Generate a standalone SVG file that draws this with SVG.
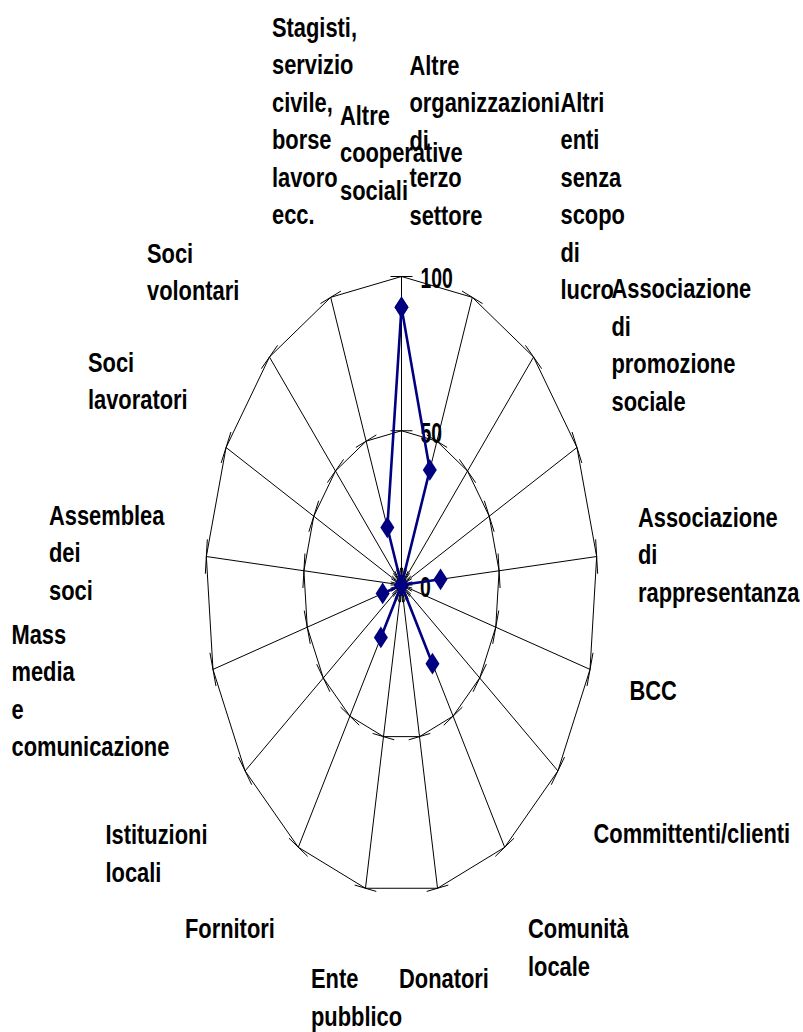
<svg xmlns="http://www.w3.org/2000/svg" width="803" height="1032" viewBox="0 0 803 1032">
<style>
.grid{fill:none;stroke:#000;stroke-width:1}
.series{fill:none;stroke:#000080;stroke-width:2.6;stroke-linejoin:round;marker-start:url(#dia);marker-mid:url(#dia);marker-end:url(#dia)}
.lbl{font-family:"Liberation Sans",Arial,sans-serif;font-weight:bold;font-size:27px;fill:#000}
.num{font-family:"Liberation Sans",Arial,sans-serif;font-weight:bold;font-size:30px;fill:#000}
</style>
<defs>
<marker id="dia" markerUnits="userSpaceOnUse" markerWidth="16" markerHeight="24" viewBox="-8 -12 16 24" refX="0" refY="0" orient="0" overflow="visible">
<path d="M0 -10.9L7 0L0 10.9L-7 0Z" fill="#000080"/>
</marker>
</defs>
<rect width="803" height="1032" fill="#fff"/>
<g id="grid">
<polygon class="grid" points="401.5,276.5 472.3,297.33 533.55,357.02 576.95,447.49 596.66,556.53 590.02,669.42 557.91,770.91 504.68,847.29 437.52,888.25 365.48,888.25 298.32,847.29 245.09,770.91 212.98,669.42 206.34,556.53 226.05,447.49 269.45,357.02 330.7,297.33"/>
<polygon class="grid" points="401.5,430.75 436.9,441.17 467.52,471.01 489.23,516.25 499.08,570.77 495.76,627.21 479.71,677.96 453.09,716.15 419.51,736.62 383.49,736.62 349.91,716.15 323.29,677.96 307.24,627.21 303.92,570.77 313.77,516.25 335.48,471.01 366.1,441.17"/>
<path class="grid" d="M401.5 585L401.5 276.5M401.5 585L472.3 297.33M401.5 585L533.55 357.02M401.5 585L576.95 447.49M401.5 585L596.66 556.53M401.5 585L590.02 669.42M401.5 585L557.91 770.91M401.5 585L504.68 847.29M401.5 585L437.52 888.25M401.5 585L365.48 888.25M401.5 585L298.32 847.29M401.5 585L245.09 770.91M401.5 585L212.98 669.42M401.5 585L206.34 556.53M401.5 585L226.05 447.49M401.5 585L269.45 357.02M401.5 585L330.7 297.33"/>
<path class="grid" d="M390.52 276.5L412.48 276.5M462.06 291.09L482.54 303.57M525.44 345.38L541.66 368.66M572.06 432.02L581.84 462.96M595.65 539.32L597.67 573.74M593.02 652.8L587.02 686.04M564.53 757.12L551.29 784.7M514.02 838.19L495.34 856.39M448.31 885.07L426.73 891.43M376.27 891.43L354.69 885.07M307.66 856.39L288.98 838.19M251.71 784.7L238.47 757.12M215.98 686.04L209.98 652.8M205.33 573.74L207.35 539.32M221.16 462.96L230.94 432.02M261.34 368.66L277.56 345.38M320.46 303.57L340.94 291.09"/>
<path class="grid" d="M390.52 430.75L412.48 430.75M426.66 434.93L447.14 447.41M459.41 459.37L475.63 482.65M484.34 500.78L494.12 531.72M498.07 553.56L500.09 587.98M498.76 610.59L492.76 643.83M486.33 664.17L473.09 691.75M462.43 707.05L443.75 725.25M430.3 733.44L408.72 739.8M394.28 739.8L372.7 733.44M359.25 725.25L340.57 707.05M329.91 691.75L316.67 664.17M310.24 643.83L304.24 610.59M302.91 587.98L304.93 553.56M308.88 531.72L318.66 500.78M327.37 482.65L343.59 459.37M355.86 447.41L376.34 434.93"/>
<path class="grid" d="M390.52 585L412.48 585M391.26 578.76L411.74 591.24M393.39 573.36L409.61 596.64M396.61 569.53L406.39 600.47M400.49 567.79L402.51 602.21M404.5 568.38L398.5 601.62M408.12 571.21L394.88 598.79M410.84 575.9L392.16 594.1M412.29 581.82L390.71 588.18M412.29 588.18L390.71 581.82M410.84 594.1L392.16 575.9M408.12 598.79L394.88 571.21M404.5 601.62L398.5 568.38M400.49 602.21L402.51 567.79M396.61 600.47L406.39 569.53M393.39 596.64L409.61 573.36M391.26 591.24L411.74 578.76"/>
</g>
<g id="axis-values">
<text class="num" transform="translate(420.5,288.3) scale(0.645,1)">100</text>
<text class="num" transform="translate(420.5,443.3) scale(0.645,1)">50</text>
<text class="num" transform="translate(420,596.7) scale(0.645,1)">0</text>
</g>
<g id="connectors">
<polygon class="series" points="401.5,307.35 429.82,469.93 401.5,585 401.5,585 440.53,579.31 401.5,585 401.5,585 432.45,663.69 401.5,585 401.5,585 380.86,637.46 401.5,585 382.65,593.44 401.5,585 401.5,585 401.5,585 387.34,527.47"/>
</g>
<g id="label-stagisti"><text class="lbl" transform="translate(272,36.7) scale(0.81,1)"><tspan x="0" y="0">Stagisti,</tspan><tspan x="0" y="37.5">servizio</tspan><tspan x="0" y="75">civile,</tspan><tspan x="0" y="112.5">borse</tspan><tspan x="0" y="150">lavoro</tspan><tspan x="0" y="187.5">ecc.</tspan></text></g>
<g id="label-altre-cooperative"><text class="lbl" transform="translate(340,125) scale(0.81,1)"><tspan x="0" y="0">Altre</tspan><tspan x="0" y="37.5">cooperative</tspan><tspan x="0" y="75">sociali</tspan></text></g>
<g id="label-altre-organizzazioni"><text class="lbl" transform="translate(409.5,75) scale(0.81,1)"><tspan x="0" y="0">Altre</tspan><tspan x="0" y="37.5">organizzazioni</tspan><tspan x="0" y="75">di</tspan><tspan x="0" y="112.5">terzo</tspan><tspan x="0" y="150">settore</tspan></text></g>
<g id="label-altri-enti"><text class="lbl" transform="translate(560.5,111.7) scale(0.81,1)"><tspan x="0" y="0">Altri</tspan><tspan x="0" y="37.5">enti</tspan><tspan x="0" y="75">senza</tspan><tspan x="0" y="112.5">scopo</tspan><tspan x="0" y="150">di</tspan><tspan x="0" y="187.5">lucro</tspan></text></g>
<g id="label-promozione"><text class="lbl" transform="translate(611.5,298.3) scale(0.81,1)"><tspan x="0" y="0">Associazione</tspan><tspan x="0" y="37.5">di</tspan><tspan x="0" y="75">promozione</tspan><tspan x="0" y="112.5">sociale</tspan></text></g>
<g id="label-rappresentanza"><text class="lbl" transform="translate(638,526.7) scale(0.81,1)"><tspan x="0" y="0">Associazione</tspan><tspan x="0" y="37.5">di</tspan><tspan x="0" y="75">rappresentanza</tspan></text></g>
<g id="label-bcc"><text class="lbl" transform="translate(629.5,700) scale(0.81,1)">BCC</text></g>
<g id="label-committenti"><text class="lbl" transform="translate(593.5,843.3) scale(0.81,1)">Committenti/clienti</text></g>
<g id="label-comunita"><text class="lbl" transform="translate(528,938.3) scale(0.81,1)"><tspan x="0" y="0">Comunità</tspan><tspan x="0" y="37.5">locale</tspan></text></g>
<g id="label-donatori"><text class="lbl" transform="translate(399,988.3) scale(0.81,1)">Donatori</text></g>
<g id="label-ente"><text class="lbl" transform="translate(311,988.3) scale(0.81,1)"><tspan x="0" y="0">Ente</tspan><tspan x="0" y="37.5">pubblico</tspan></text></g>
<g id="label-fornitori"><text class="lbl" transform="translate(185,938.3) scale(0.81,1)">Fornitori</text></g>
<g id="label-istituzioni"><text class="lbl" transform="translate(105.5,844.3) scale(0.81,1)"><tspan x="0" y="0">Istituzioni</tspan><tspan x="0" y="37.5">locali</tspan></text></g>
<g id="label-mass-media"><text class="lbl" transform="translate(11.5,644) scale(0.81,1)"><tspan x="0" y="0">Mass</tspan><tspan x="0" y="37.5">media</tspan><tspan x="0" y="75">e</tspan><tspan x="0" y="112.5">comunicazione</tspan></text></g>
<g id="label-assemblea"><text class="lbl" transform="translate(49,525) scale(0.81,1)"><tspan x="0" y="0">Assemblea</tspan><tspan x="0" y="37.5">dei</tspan><tspan x="0" y="75">soci</tspan></text></g>
<g id="label-soci-lavoratori"><text class="lbl" transform="translate(88,371.7) scale(0.81,1)"><tspan x="0" y="0">Soci</tspan><tspan x="0" y="37.5">lavoratori</tspan></text></g>
<g id="label-soci-volontari"><text class="lbl" transform="translate(147,262.7) scale(0.81,1)"><tspan x="0" y="0">Soci</tspan><tspan x="0" y="37.5">volontari</tspan></text></g>
</svg>
